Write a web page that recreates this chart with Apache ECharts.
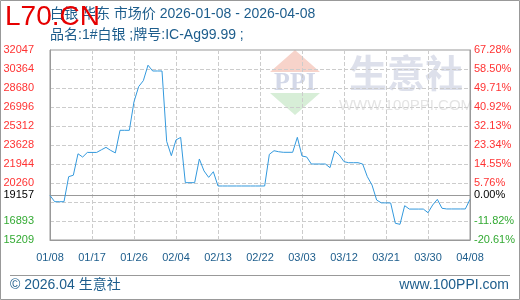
<!DOCTYPE html>
<html><head><meta charset="utf-8">
<script src="https://cdn.jsdelivr.net/npm/echarts@6/dist/echarts.min.js"></script>
<style>html,body{margin:0;padding:0;background:#fff}#c{width:520px;height:300px}</style>
</head><body><div id="c"></div>
<script>
// ---- data ----
const startDate = '2026-01-08';
const prices = [
  19157, 18603, 18603, 18603, 20820, 20950, 22850, 22560, 22970, 22970,
  22970, 23200, 23420, 23150, 22930, 24930, 24930, 24930, 27466, 28800,
  29330, 30700, 30186, 30186, 30186, 23950, 22680, 24080, 24300, 20290,
  20290, 20290, 22390, 21330, 20760, 21260, 19995, 19995, 19995, 19995,
  19995, 19995, 19995, 19995, 19995, 19995, 19995, 22800, 23120, 23030,
  22980, 22980, 22980, 24310, 22650, 22570, 21944, 21944, 21944, 21944,
  21620, 23100, 22740, 22150, 22060, 22060, 22060, 21944, 20820, 20080,
  18750, 18500, 18500, 18490, 16690, 16600, 18250, 17950, 17950, 17950,
  17950, 17630, 18310, 18810, 18020, 17960, 17960, 17960, 17960, 17960,
  18810
];
const baseValue = 19157;
const baseLabelRight = '0.00%';
const leftTickLabels = ['15209','16893','','20260','21944','23628','25312','26996','28680','30364','32047'];
const rightTickLabels = ['-20.61%','-11.82%','','5.76%','14.55%','23.34%','32.13%','40.92%','49.71%','58.50%','67.28%'];
const yMin = 15209, yMax = 32047;
const xLabelStep = 9;
const titleText = '白银 华东 市场价 2026-01-08 - 2026-04-08';
const subTitleText = '品名:1#白银 ;牌号:IC-Ag99.99 ;';

// categories (calendar days)
const categories = [];
(function(){
  const d0 = new Date(startDate + 'T00:00:00Z');
  for (let i = 0; i < prices.length; i++) {
    const d = new Date(d0.getTime() + i * 86400000);
    const mm = String(d.getUTCMonth() + 1).padStart(2, '0');
    const dd = String(d.getUTCDate()).padStart(2, '0');
    categories.push(mm + '/' + dd);
  }
})();

const yInterval = (yMax - yMin) / (leftTickLabels.length - 1);
const FONT = "'Liberation Sans','Noto Sans CJK SC',sans-serif";
const RED = '#ff3333', GREEN = '#33aa33', BLUE = '#1d5d8c';

const chart = echarts.init(document.getElementById('c'), null, {renderer: 'canvas'});
chart.setOption({
  animation: false,
  grid: {left: 50, right: 50, top: 50, bottom: 60, show: true, borderColor: '#999', borderWidth: 1, containLabel: false},
  xAxis: {
    type: 'category', data: categories, boundaryGap: false,
    axisLine: {show: true, lineStyle: {color: '#999'}},
    axisTick: {show: false},
    axisLabel: {interval: xLabelStep - 1, color: BLUE, fontSize: 11, fontFamily: FONT, margin: 12},
    splitLine: {show: true, interval: xLabelStep - 1, lineStyle: {color: '#ccc', type: 'dashed'}}
  },
  yAxis: [{
    type: 'value', min: yMin, max: yMax, interval: yInterval,
    axisLine: {show: true, lineStyle: {color: '#999'}},
    axisTick: {show: false},
    splitLine: {show: true, lineStyle: {color: '#ccc', type: 'dashed'}},
    axisLabel: {
      margin: 16, fontSize: 11, fontFamily: FONT,
      formatter: function (v) {
        const i = Math.round((v - yMin) / yInterval);
        const t = leftTickLabels[i];
        if (!t) return '';
        return '{' + (Number(t) > baseValue ? 'u' : 'd') + '|' + t + '}';
      },
      rich: {u: {color: RED, fontSize: 11, fontFamily: FONT}, d: {color: GREEN, fontSize: 11, fontFamily: FONT}}
    }
  }, {
    type: 'value', min: yMin, max: yMax, interval: yInterval, position: 'right',
    axisLine: {show: true, lineStyle: {color: '#999'}},
    axisTick: {show: false},
    splitLine: {show: false},
    axisLabel: {
      margin: 4, fontSize: 11, fontFamily: FONT,
      formatter: function (v) {
        const i = Math.round((v - yMin) / yInterval);
        const t = rightTickLabels[i];
        if (!t) return '';
        return '{' + (t.charAt(0) === '-' ? 'd' : 'u') + '|' + t + '}';
      },
      rich: {u: {color: RED, fontSize: 11, fontFamily: FONT}, d: {color: GREEN, fontSize: 11, fontFamily: FONT}}
    }
  }],
  series: [{
    type: 'line', data: prices, yAxisIndex: 0,
    showSymbol: false, symbol: 'none', silent: true,
    lineStyle: {color: '#3399dd', width: 1},
    itemStyle: {color: '#3399dd'},
    z: 5,
    markLine: {
      silent: true, symbol: 'none', animation: false,
      lineStyle: {color: '#999', type: 'solid', width: 1},
      emphasis: {disabled: true},
      data: [
        {yAxis: baseValue, label: {show: true, position: 'start', formatter: String(baseValue), color: '#000', distance: 16, fontSize: 11, fontFamily: FONT}},
        {yAxis: baseValue, label: {show: true, position: 'end', formatter: baseLabelRight, color: '#000', distance: 4, fontSize: 11, fontFamily: FONT}}
      ]
    }
  }],
  graphic: [
    // watermark
    {type: 'polygon', z: -5, shape: {points: [[270, 72], [295, 50], [320, 72]]}, style: {fill: '#f7d3ca'}},
    {type: 'polygon', z: -5, shape: {points: [[270, 93], [320, 93], [295, 115]]}, style: {fill: '#d7eed7'}},
    {type: 'text', z: -4, x: 295, y: 83, style: {text: 'PPI', fill: '#d3d8e8', font: "bold 26px 'Liberation Serif',serif", textAlign: 'center', textVerticalAlign: 'middle'}},
    {type: 'text', z: -4, x: 406, y: 73, style: {text: '生意社', fill: '#dde0eb', font: "bold 38px 'Noto Sans CJK SC',sans-serif", textAlign: 'center', textVerticalAlign: 'middle'}},
    {type: 'text', z: -4, x: 406, y: 106, style: {text: 'WWW.100PPI.COM', fill: '#e4e4e4', font: "15px 'Liberation Sans',sans-serif", textAlign: 'center', textVerticalAlign: 'middle'}},
    // border & footer
    {type: 'rect', z: 10, shape: {x: 0.5, y: 0.5, width: 519, height: 299}, style: {fill: 'none', stroke: '#999', lineWidth: 1}},
    {type: 'line', z: 10, shape: {x1: 10, y1: 275.5, x2: 510, y2: 275.5}, style: {stroke: '#999', lineWidth: 1}},
    {type: 'text', z: 10, x: 10, y: 285, style: {text: '© 2026.04 生意社', fill: BLUE, font: "14px " + FONT, textAlign: 'left', textVerticalAlign: 'middle'}},
    {type: 'text', z: 10, x: 509, y: 285, style: {text: 'www.100PPI.com', fill: BLUE, font: "14px " + FONT, textAlign: 'right', textVerticalAlign: 'middle'}},
    // titles
    {type: 'text', z: 10, x: 50, y: 14, style: {text: titleText, fill: BLUE, font: "14px " + FONT, textAlign: 'left', textVerticalAlign: 'middle'}},
    {type: 'text', z: 10, x: 50, y: 35, style: {text: subTitleText, fill: BLUE, font: "14px " + FONT, textAlign: 'left', textVerticalAlign: 'middle'}},
    {type: 'text', z: 11, x: 5, y: 17, style: {text: 'L70.CN', fill: '#e60000', font: "28px 'Liberation Sans',sans-serif", textAlign: 'left', textVerticalAlign: 'middle'}}
  ]
});
</script>
</body></html>
